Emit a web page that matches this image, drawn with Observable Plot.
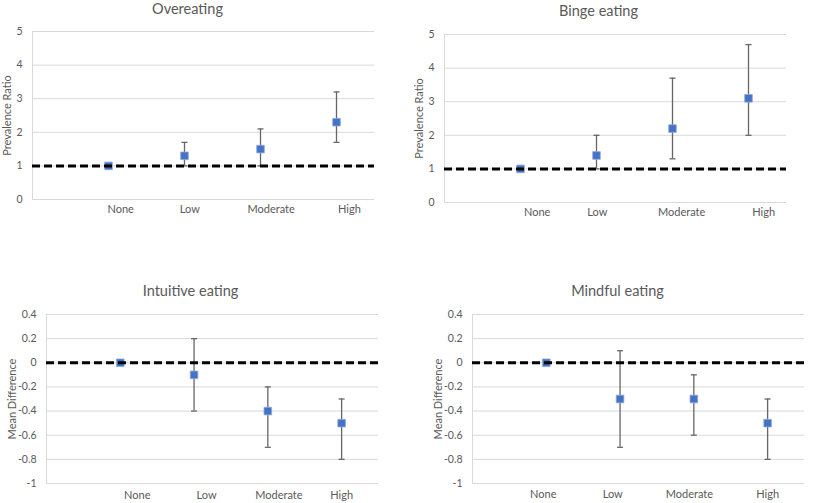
<!DOCTYPE html>
<html>
<head>
<meta charset="utf-8">
<script src="https://cdn.jsdelivr.net/npm/d3@7"></script>
<script src="https://cdn.jsdelivr.net/npm/@observablehq/plot@0.6"></script>
<style>
  html, body { margin: 0; padding: 0; background: #fff; }
  #wrap { position: relative; width: 814px; height: 503px; overflow: hidden; font-family: Lato, "Open Sans", sans-serif; }
  .panel { position: absolute; }
</style>
</head>
<body>
<div id="wrap"></div>
<script>
// ---- data ----
const categories = ["None", "Low", "Moderate", "High"];

const overeatingEst  = [1.0, 1.3, 1.5, 2.3];
const overeatingLow  = [null, 1.0, 1.0, 1.7];
const overeatingHigh = [null, 1.7, 2.1, 3.2];

const bingeEst  = [1.0, 1.4, 2.2, 3.1];
const bingeLow  = [null, 1.0, 1.3, 2.0];
const bingeHigh = [null, 2.0, 3.7, 4.7];

const intuitiveEst  = [0, -0.1, -0.4, -0.5];
const intuitiveLow  = [null, -0.4, -0.7, -0.8];
const intuitiveHigh = [null, 0.2, -0.2, -0.3];

const mindfulEst  = [0, -0.3, -0.3, -0.5];
const mindfulLow  = [null, -0.7, -0.6, -0.8];
const mindfulHigh = [null, 0.1, -0.1, -0.3];

const ratioTicks = [0, 1, 2, 3, 4, 5];
const diffTicks = [0.4, 0.2, 0, -0.2, -0.4, -0.6, -0.8, -1];

// ---- layout / style ----
const panels = [
  { title: "Overeating", yLabel: "Prevalence Ratio", est: overeatingEst, lo: overeatingLow, hi: overeatingHigh,
    ticks: ratioTicks, domain: [0, 5], ref: 1,
    left: 0, top: 0, width: 407, height: 225, mL: 32, mR: 33, mT: 31, mB: 26,
    titleDx: -16, titleY: 8.5, yLabDx: -25, labelDy: 10, labelShift: [0.16, 0.07, 0.14, 0.17] },
  { title: "Binge eating", yLabel: "Prevalence Ratio", est: bingeEst, lo: bingeLow, hi: bingeHigh,
    ticks: ratioTicks, domain: [0, 5], ref: 1,
    left: 407, top: 0, width: 407, height: 228, mL: 37, mR: 28, mT: 34, mB: 26,
    titleDx: -17, titleY: 11, yLabDx: -25, labelDy: 10, labelShift: [0.22, 0.01, 0.12, 0.2] },
  { title: "Intuitive eating", yLabel: "Mean Difference", est: intuitiveEst, lo: intuitiveLow, hi: intuitiveHigh,
    ticks: diffTicks, domain: [-1, 0.4], ref: 0,
    left: 0, top: 255, width: 407, height: 248, mL: 46, mR: 29, mT: 59, mB: 20,
    titleDx: -22, titleY: 36, yLabDx: -34, labelDy: 12, labelShift: [0.23, 0.17, 0.15, 0.0] },
  { title: "Mindful eating", yLabel: "Mean Difference", est: mindfulEst, lo: mindfulLow, hi: mindfulHigh,
    ticks: diffTicks, domain: [-1, 0.4], ref: 0,
    left: 407, top: 255, width: 407, height: 248, mL: 65, mR: 10, mT: 59, mB: 20,
    titleDx: -21, titleY: 36, yLabDx: -34, labelDy: 11, labelShift: [-0.04, -0.1, -0.06, 0.0] }
];

const capSymbol = {
  draw(context, size) {
    const r = Math.sqrt(size / Math.PI);
    context.moveTo(-r, 0);
    context.lineTo(r, 0);
  }
};

const wrap = document.getElementById("wrap");

for (const p of panels) {
  const rows = categories.map((c, i) => ({ cat: c, pos: i + 1, est: p.est[i], lo: p.lo[i], hi: p.hi[i], lab: i + 1 + p.labelShift[i] }));
  const withCI = rows.filter(d => d.lo != null && d.hi != null);

  const chart = Plot.plot({
    width: p.width,
    height: p.height,
    marginLeft: p.mL, marginRight: p.mR, marginTop: p.mT, marginBottom: p.mB,
    style: { fontFamily: "Lato, 'Open Sans', sans-serif", color: "#595959", background: "#fff", overflow: "visible" },
    x: { domain: [0, 4.5], axis: null },
    y: { domain: p.domain, axis: null },
    marks: [
      Plot.ruleY(p.ticks, { stroke: "#d9d9d9", strokeWidth: 1 }),
      Plot.ruleX([0], { stroke: "#d9d9d9", strokeWidth: 1 }),
      Plot.axisY({ ticks: p.ticks, tickSize: 0, tickPadding: 10, tickFormat: d => String(d), fontSize: 10.5, label: null }),
      Plot.text([p.yLabel], { text: d => d, frameAnchor: "left", rotate: -90, dx: p.yLabDx, fontSize: 11, fill: "#595959", lineAnchor: "middle", textAnchor: "middle" }),
      Plot.text([p.title], { text: d => d, frameAnchor: "top", dx: p.titleDx, dy: p.titleY - p.mT, fontSize: 14.5, fill: "#595959", lineAnchor: "middle" }),
      Plot.text(rows, { x: "lab", text: "cat", frameAnchor: "bottom", dy: p.labelDy, fontSize: 11, fill: "#595959", lineAnchor: "middle" }),
      Plot.ruleX(withCI, { x: "pos", y1: "lo", y2: "hi", stroke: "#666666", strokeWidth: 1.3 }),
      Plot.dot(withCI, { x: "pos", y: "hi", symbol: capSymbol, r: 3, stroke: "#666666", strokeWidth: 1.3, fill: "none" }),
      Plot.dot(withCI, { x: "pos", y: "lo", symbol: capSymbol, r: 3, stroke: "#666666", strokeWidth: 1.3, fill: "none" }),
      Plot.dot(rows, { x: "pos", y: "est", symbol: "square", r: 4.3, fill: "#4472C4", stroke: "#8eaadb", strokeWidth: 0.8 }),
      Plot.ruleY([p.ref], { stroke: "#000", strokeWidth: 3, strokeDasharray: "8,4" })
    ]
  });

  const div = document.createElement("div");
  div.className = "panel";
  div.style.left = p.left + "px";
  div.style.top = p.top + "px";
  div.appendChild(chart);
  wrap.appendChild(div);
}
</script>
</body>
</html>
